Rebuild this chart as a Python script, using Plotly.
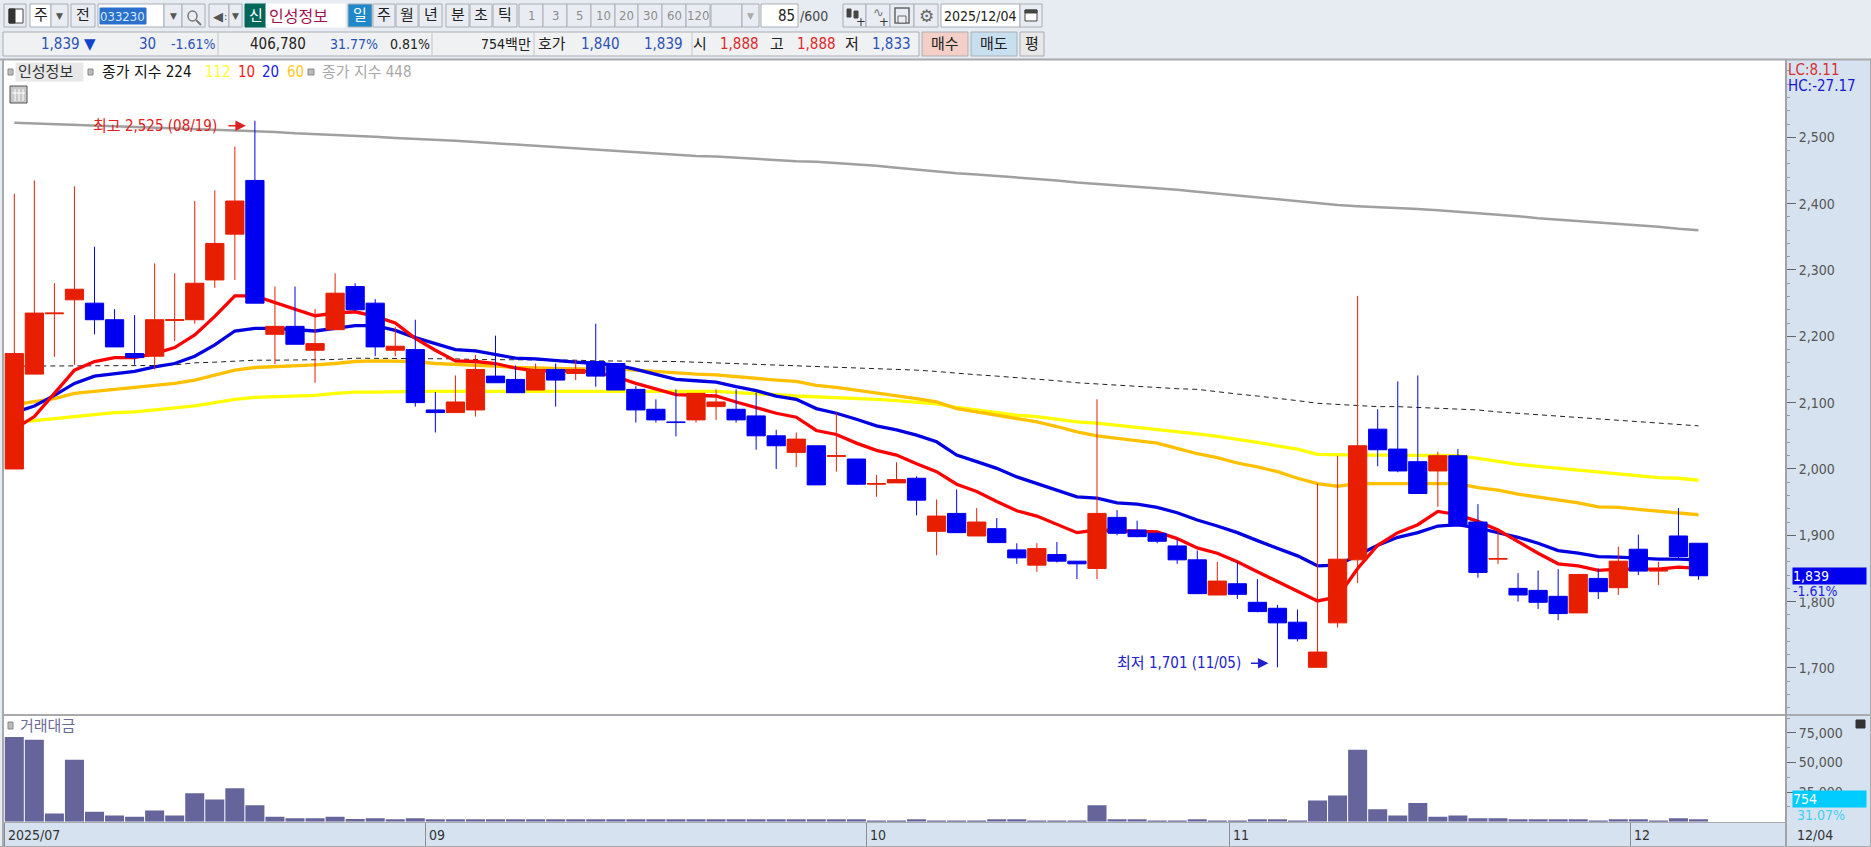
import plotly.graph_objects as go

# ---------- data ----------
OPEN = [2000,2143,2234,2255,2250,2225,2174,2170,2224,2225,2285,2354,2435,2203,2215,2179,2210,2275,2250,2179,
        2180,2089,2085,2089,2140,2135,2119,2150,2144,2162,2159,2120,2090,2071,2074,2094,2090,2080,2050,2025,
        2035,2019,2015,1977,1979,1986,1906,1933,1899,1910,1878,1855,1871,1861,1850,1927,1908,1903,1884,1863,
        1810,1827,1799,1790,1769,1701,1768,1863,2060,2030,2011,1997,2020,1920,1864,1820,1817,1808,1783,1835,
        1821,1879,1846,1899,1888]
HIGH = [2415,2435,2280,2426,2335,2241,2232,2310,2295,2404,2420,2486,2525,2275,2275,2241,2295,2280,2256,2214,
        2225,2116,2141,2172,2201,2156,2159,2159,2164,2219,2160,2125,2105,2120,2114,2120,2120,2115,2059,2055,
        2035,2085,2015,1991,2010,1989,1954,1969,1941,1926,1888,1888,1890,1861,2105,1938,1922,1905,1894,1877,
        1860,1859,1834,1795,1788,1978,2020,2261,2090,2132,2141,2026,2030,1947,1910,1843,1847,1849,1841,1850,
        1883,1901,1860,1941,1888]
LOW = [2000,2143,2169,2157,2203,2184,2157,2150,2193,2219,2273,2285,2250,2158,2188,2130,2210,2238,2170,2170,
       2094,2055,2085,2079,2130,2115,2119,2094,2134,2124,2119,2070,2070,2049,2070,2074,2070,2029,2000,2003,
       1976,1996,1976,1958,1979,1930,1870,1904,1899,1889,1857,1845,1859,1834,1834,1900,1897,1888,1857,1812,
       1810,1804,1784,1701,1740,1701,1761,1828,2004,1995,1963,1943,1914,1836,1857,1800,1789,1772,1783,1804,
       1810,1840,1825,1865,1833]
CLOSE = [2174,2235,2235,2271,2225,2184,2168,2225,2225,2280,2340,2404,2250,2215,2188,2189,2265,2240,2184,2185,
         2100,2085,2101,2150,2130,2115,2150,2134,2150,2140,2119,2089,2074,2070,2114,2101,2074,2050,2035,2045,
         1976,2020,1977,1978,1984,1953,1929,1904,1920,1889,1866,1880,1861,1857,1933,1903,1898,1891,1863,1812,
         1831,1811,1785,1768,1744,1724,1864,2035,2029,1997,1963,2020,1914,1844,1865,1810,1799,1782,1841,1815,
         1861,1846,1847,1868,1839]
MA10 = [2060,2079,2114,2149,2162,2168,2168,2174,2183,2202,2230,2261,2261,2251,2241,2231,2235,2237,2230,2220,
        2197,2179,2163,2162,2159,2152,2148,2148,2148,2146,2139,2129,2121,2112,2111,2110,2101,2093,2084,2078,
        2058,2052,2039,2028,2021,2008,1996,1977,1966,1951,1937,1929,1917,1904,1908,1907,1907,1905,1895,1881,
        1873,1860,1845,1830,1815,1801,1807,1850,1885,1904,1916,1936,1931,1921,1908,1890,1873,1857,1854,1847,
        1849,1849,1849,1852,1850]
MA20 = [2085,2095,2111,2129,2140,2143,2147,2154,2159,2170,2187,2208,2212,2212,2210,2208,2212,2216,2216,2209,
        2198,2189,2180,2178,2173,2167,2166,2163,2161,2159,2157,2150,2143,2135,2133,2131,2124,2118,2110,2105,
        2091,2084,2075,2065,2059,2051,2041,2021,2011,2001,1988,1978,1969,1958,1956,1949,1947,1942,1934,1923,
        1914,1904,1892,1881,1869,1854,1855,1870,1885,1897,1904,1914,1916,1911,1904,1897,1888,1877,1873,1868,
        1867,1865,1864,1864,1863]
MA60 = [2097,2101,2106,2114,2117,2120,2123,2125,2129,2134,2142,2149,2153,2154,2155,2157,2159,2162,2163,2163,
        2162,2159,2158,2157,2155,2153,2152,2151,2151,2151,2151,2149,2147,2144,2143,2142,2139,2136,2134,2132,
        2126,2123,2119,2115,2110,2106,2101,2091,2086,2081,2076,2071,2064,2056,2050,2046,2043,2039,2031,2023,
        2017,2009,2003,1996,1986,1978,1974,1978,1978,1978,1978,1978,1978,1972,1968,1962,1958,1953,1949,1943,
        1942,1939,1936,1933,1931]
MA112 = [2070,2073,2076,2080,2082,2085,2086,2089,2091,2095,2100,2105,2108,2109,2110,2111,2114,2116,2116,2117,
         2117,2117,2117,2117,2117,2117,2117,2118,2118,2118,2118,2118,2118,2117,2117,2117,2115,2114,2112,2110,
         2109,2108,2106,2105,2103,2101,2098,2093,2089,2085,2081,2079,2075,2071,2069,2066,2062,2060,2056,2053,
         2049,2045,2040,2035,2030,2022,2021,2021,2021,2021,2021,2020,2020,2016,2011,2007,2004,2001,1999,1996,
         1993,1990,1987,1986,1983]
MA224 = [2155,2155,2155,2155,2155,2156,2156,2156,2157,2160,2161,2163,2164,2164,2164,2164,2165,2167,2167,2167,
         2167,2166,2166,2165,2165,2165,2164,2164,2164,2163,2163,2163,2162,2162,2161,2160,2159,2158,2157,2156,
         2155,2154,2153,2152,2150,2149,2147,2144,2142,2140,2138,2135,2133,2130,2128,2126,2124,2122,2121,2120,
         2116,2113,2110,2107,2103,2099,2097,2095,2094,2094,2093,2092,2091,2089,2086,2084,2082,2079,2077,2075,
         2073,2071,2069,2067,2065]
MA448 = [2522,2521,2520,2519,2518,2517,2516,2515,2514,2513,2512,2511,2509,2508,2506,2505,2504,2502,2501,2499,
         2498,2497,2495,2493,2491,2489,2487,2485,2483,2482,2480,2478,2476,2474,2472,2471,2469,2467,2466,2464,
         2463,2461,2460,2457,2454,2451,2448,2446,2444,2442,2440,2437,2435,2432,2430,2428,2425,2423,2421,2418,
         2415,2413,2410,2407,2404,2401,2398,2396,2395,2393,2392,2390,2388,2385,2383,2381,2378,2376,2374,2372,
         2370,2367,2365,2362,2360]
VALUE = [71500,69200,7000,52400,8400,5300,4200,9500,5300,24100,18800,28300,13800,4200,3000,3000,4200,2300,3000,2000,
         3000,2000,2000,2000,2000,2000,2000,2000,2000,2000,2000,2000,2000,2000,2000,2000,2000,2000,2000,2000,
         2000,2000,2000,1100,1100,2000,1100,1100,1100,2000,2000,1100,1100,1100,13800,2000,2000,1100,1100,2000,
         1100,1100,2000,2000,1100,17900,22100,60800,10600,5300,15700,4200,5300,3000,3000,2000,2000,2000,2000,1100,
         2000,2000,1100,3000,2000]
for a in (OPEN, HIGH, LOW, CLOSE, MA10, MA20, MA60, MA112, MA224, MA448, VALUE):
    assert len(a) == 85, len(a)

INDEX = list(range(85))
PRICE_TICKS = [1700,1800,1900,2000,2100,2200,2300,2400,2500]
VALUE_TICKS = [25000,50000,75000]
VALUE_MINOR = [12500,37500,62500,87500]
MONTH_POS = [-0.5,20.5,42.5,60.6,80.6]
MONTH_LABELS = ["2025/07","09","10","11","12"]
HIGH_I, LOW_I = 12, 63

# ---------- look ----------
W, H = 1871, 847
NARROW = "Liberation Sans Narrow, DejaVu Sans Condensed, Noto Sans CJK KR, sans-serif"
BG, PANEL = "#e7ecf3", "#d6e2f0"
RED, BLUE = "#e81e00", "#0000f0"
TXTBLUE, TXTRED = "#2a52b8", "#e02828"
def fx(px): return px / W
def fy(px): return 1 - px / H
xr = [(3 - 14.3) / 20.05, (1786 - 14.3) / 20.05]
yr = [1701 + (667.3 - 714.5) * 1.5076, 1701 + (667.3 - 60) * 1.5076]
vr = [0, (821.7 - 715) / 1.19 * 1000]

shapes, annos = [], []
def rect(x0, y0, x1, y1, fill, line=None, lw=1):
    shapes.append(dict(type="rect", xref="paper", yref="paper", x0=fx(x0), x1=fx(x1), y0=fy(y0), y1=fy(y1),
                       fillcolor=fill, line=dict(color=line or fill, width=lw), layer="below"))
def hline(x0, y0, x1, y1, col, lw=1):
    shapes.append(dict(type="line", xref="paper", yref="paper", x0=fx(x0), x1=fx(x1), y0=fy(y0), y1=fy(y1),
                       line=dict(color=col, width=lw), layer="below"))
def text(x, y, s, col="#222222", size=15, anchor="left", fam=NARROW):
    annos.append(dict(xref="paper", yref="paper", x=fx(x), y=fy(y), text=s, showarrow=False, xanchor=anchor,
                      yanchor="middle", font=dict(color=col, size=size, family=fam),
                      borderpad=0, borderwidth=0))
def btn(x0, x1, label="", fill="#e9edf3", col="#222222", y0=4, y1=27, size=15):
    rect(x0, y0, x1, y1, fill, "#a9aeb4")
    if label:
        text((x0 + x1) / 2, (y0 + y1) / 2, label, col, size, "center")
def tri(x, y, col="#555555", size=9):
    text(x, y, "▼", col, size, "center", "DejaVu Sans")

# chrome: panels
rect(0, 0, W, H, BG)
rect(3, 60, 1786, 846, "#ffffff")
rect(1786, 60, 1871, 847, PANEL)
rect(3, 823, 1786, 846, PANEL)
hline(0, 59.5, 1871, 59.5, "#a8aaae", 2)
hline(3, 60, 3, 846, "#a8aaae", 2)
hline(3, 715, 1871, 715, "#a8aaae", 2)
hline(0, 846.5, 1871, 846.5, "#a8aaae", 1)
hline(1786, 60, 1786, 847, "#a0a4aa", 2)
hline(1870.5, 60, 1870.5, 847, "#a8aaae", 1)

# toolbar row 1
btn(4, 26); rect(9, 9, 23, 23, "#ffffff", "#444444"); rect(9, 9, 15, 23, "#333333", "#333333")
btn(30, 51, "주", "#ffffff"); btn(51, 68); tri(59.5, 16)
btn(71, 95, "전")
rect(98, 4, 164, 27, "#ffffff", "#a9aeb4"); rect(100, 8, 146, 24, "#2a70cc"); text(123, 16, "033230", "#d8e8ff", 13, "center")
btn(164, 182); tri(173, 16); btn(182, 205)
shapes.append(dict(type="circle", xref="paper", yref="paper", x0=fx(188), x1=fx(197), y0=fy(21), y1=fy(11),
                   line=dict(color="#777777", width=1.5), fillcolor="rgba(0,0,0,0)", layer="below"))
hline(196, 20, 201, 25, "#777777", 2)
btn(209, 229); text(218, 16, "◀", "#555555", 13, "center", "DejaVu Sans"); text(225, 16, ":", "#555555", 11, "center")
btn(229, 242); tri(235.5, 16)
rect(245, 4, 266, 27, "#00665a"); text(255.5, 16, "신", "#ffffff", 15, "center")
rect(266, 4, 345, 27, "#ffffff"); text(269, 16, "인성정보", "#a0104e", 16)
btn(348, 372, "일", "#1e88c8", "#ffffff")
for a, b, s in [(373,395,"주"),(396,418,"월"),(419,442,"년"),(446,469,"분"),(470,492,"초"),(493,517,"틱")]:
    btn(a, b, s)
for a, b, s in [(519,543,"1"),(543,567,"3"),(567,591,"5"),(591,615,"10"),(615,638,"20"),(638,662,"30"),(662,686,"60"),(686,710,"120")]:
    btn(a, b, s, "#e9edf3", "#8c8c8c", size=13)
btn(711, 742); btn(742, 759); tri(750.5, 16, "#aaaaaa")
rect(761, 4, 798, 27, "#ffffff", "#a9aeb4"); text(795, 16, "85", "#222222", 15, "right"); text(800, 16, "/600", "#444444", 14)
btn(843, 866); btn(866, 890); btn(890, 914); btn(914, 938)
rect(847, 9, 851, 17, "#444444"); rect(854, 11, 858, 18, "#444444"); text(861, 21, "+", "#333333", 13, "center")
text(878, 13, "∿", "#777777", 13, "center", "DejaVu Sans"); text(884, 21, "+", "#333333", 13, "center")
rect(895, 8, 909, 23, "#e9edf3", "#666666", 1.5); rect(898, 16, 906, 23, "#e9edf3", "#666666")
text(926, 16, "⚙", "#666666", 17, "center", "DejaVu Sans")
rect(941, 4, 1020, 27, "#ffffff", "#a9aeb4"); text(980.5, 16, "2025/12/04", "#222222", 14, "center")
btn(1020, 1042); rect(1025, 10, 1037, 21, "#ffffff", "#444444"); rect(1025, 10, 1037, 13, "#444444")

# toolbar row 2
rect(3, 32, 919, 56, "#f0f1f3", "#a9aeb4")
for v in (218, 432, 534, 692):
    hline(v, 32, v, 56, "#c4c6ca")
Y2 = 44.5
text(41, Y2, "1,839", TXTBLUE, 15); text(90, Y2, "▼", "#1144cc", 15, "center", "DejaVu Sans")
text(156, Y2, "30", TXTBLUE, 15, "right"); text(216, Y2, "-1.61%", TXTBLUE, 14, "right")
text(306, Y2, "406,780", "#222222", 15, "right")
text(378, Y2, "31.77%", TXTBLUE, 14, "right"); text(430, Y2, "0.81%", "#222222", 14, "right")
text(531, Y2, "754백만", "#222222", 14, "right"); text(538, Y2, "호가", "#222222", 15)
text(581, Y2, "1,840", TXTBLUE, 15); text(644, Y2, "1,839", TXTBLUE, 15)
text(693, Y2, "시", "#222222", 15); text(720, Y2, "1,888", TXTRED, 15)
text(770, Y2, "고", "#222222", 15); text(797, Y2, "1,888", TXTRED, 15)
text(845, Y2, "저", "#222222", 15); text(872, Y2, "1,833", TXTBLUE, 15)
btn(922, 968, "매수", "#f4cfc8", y0=32, y1=56)
btn(971, 1017, "매도", "#c8dff0", y0=32, y1=56)
btn(1020, 1044, "평", "#e8e8e8", y0=32, y1=56)

# panel legend
Y3 = 72
rect(8, 69, 13, 75, "#bbbbbb", "#888888"); rect(16, 63, 83, 81, "#e8e8e8"); text(18, Y3, "인성정보", "#333333", 15)
rect(88, 69, 93, 75, "#bbbbbb", "#888888"); text(102, Y3, "종가 지수 224", "#111111", 15)
text(205, Y3, "112", "#ffff30", 15); text(238, Y3, "10", "#f02020", 15); text(262, Y3, "20", "#2020e0", 15); text(287, Y3, "60", "#ffc820", 15)
rect(308, 69, 314, 75, "#bbbbbb", "#888888"); text(322, Y3, "종가 지수 448", "#a8a8a8", 15)
rect(10, 86, 27, 103, "#c8c8c8", "#555555")
hline(15, 89, 15, 101, "#ffffff"); hline(19, 89, 19, 101, "#ffffff"); hline(23, 89, 23, 101, "#ffffff"); hline(12, 93, 25, 93, "#ffffff")
rect(8, 722, 13, 729, "#bbbbbb", "#888888"); text(20, 726, "거래대금", "#6a6a9c", 15)
rect(1856, 720, 1865, 728, "#333333")
text(1788, 70, "LC:8.11", "#d83030", 15); text(1788, 86, "HC:-27.17", "#1818d0", 15)
text(1797, 834.5, "12/04", "#333333", 14)

# data-anchored notes
for i, s in zip(MONTH_POS, MONTH_LABELS):
    annos.append(dict(xref="x2", yref="paper", x=i, y=fy(834.5), xshift=2, text=s, showarrow=False, xanchor="left",
                      yanchor="middle", font=dict(color="#333333", size=14, family=NARROW)))
def note(i, price, s, col, textshift, yshift, tip):
    annos.append(dict(xref="x", yref="y", x=i, y=price, xshift=textshift, yshift=yshift, text=s, showarrow=False,
                      xanchor="right", yanchor="middle", font=dict(color=col, size=15, family=NARROW)))
    annos.append(dict(xref="x", yref="y", x=i, y=price, xshift=tip, yshift=yshift, text="", showarrow=True,
                      axref="pixel", ayref="pixel", ax=-19, ay=0, arrowhead=2, arrowsize=1.4, arrowwidth=1.5, arrowcolor=col))
note(HIGH_I, HIGH[HIGH_I], "최고 2,525 (08/19)", "#e02020", -36, -5, -9)
note(LOW_I, LOW[LOW_I], "최저 1,701 (11/05)", "#2222cc", -34, 4, -9)
annos.append(dict(xref="paper", yref="y", x=fx(1792), y=CLOSE[-1], yshift=-15, text="-1.61%", showarrow=False, xanchor="left",
                  yanchor="middle", width=58, height=13, align="left", bgcolor=PANEL, borderpad=0,
                  font=dict(color="#2222e0", size=14, family=NARROW)))
annos.append(dict(xref="paper", yref="y", x=fx(1792), y=CLOSE[-1], text=f"{CLOSE[-1]:,}", showarrow=False, xanchor="left",
                  yanchor="middle", width=73, height=16, align="left", bgcolor="#0000ee", borderpad=0,
                  font=dict(color="#ffffff", size=14, family=NARROW)))
annos.append(dict(xref="paper", yref="paper", x=fx(1792), y=fy(799), text="754", showarrow=False, xanchor="left",
                  yanchor="middle", width=73, height=16, align="left", bgcolor="#00ccff", borderpad=0,
                  font=dict(color="#ffffff", size=14, family=NARROW)))
text(1797, 815, "31.07%", "#40d0f0", 14)

fig = go.Figure()
for ys, col, w, dash in [(MA448, "#a0a0a0", 2.5, "solid"), (MA224, "#222222", 1, "5px,4px"), (MA112, "#ffff00", 3.3, "solid"),
                         (MA60, "#ffc000", 3.3, "solid"), (MA20, "#0000e0", 3.3, "solid"), (MA10, "#ff0000", 3.3, "solid")]:
    fig.add_trace(go.Scatter(x=INDEX, y=ys, mode="lines", line=dict(color=col, width=w, dash=dash),
                             xaxis="x", yaxis="y", hoverinfo="skip", showlegend=False))
fig.add_trace(go.Candlestick(x=INDEX, open=OPEN, high=HIGH, low=LOW, close=CLOSE, xaxis="x", yaxis="y3", showlegend=False,
                             increasing=dict(line=dict(color=RED, width=1), fillcolor=RED),
                             decreasing=dict(line=dict(color=BLUE, width=1), fillcolor=BLUE)))
fig.add_trace(go.Bar(x=INDEX, y=VALUE, width=0.95, marker=dict(color="#65659b", line=dict(width=0)),
                     xaxis="x2", yaxis="y2", showlegend=False))

axis_font = dict(family=NARROW, size=14, color="#555555")
fig.update_layout(
    width=W, height=H, autosize=False, margin=dict(l=0, r=0, t=0, b=0, pad=0),
    paper_bgcolor=BG, plot_bgcolor="#ffffff", showlegend=False, boxgap=0.09, boxgroupgap=0, bargap=0.05,
    xaxis=dict(domain=[fx(3), fx(1786)], range=xr, anchor="y", showgrid=False, zeroline=False, showticklabels=False,
               ticks="", rangeslider=dict(visible=False), showline=False),
    xaxis2=dict(domain=[fx(3), fx(1786)], range=xr, anchor="y2", showgrid=False, zeroline=False, showticklabels=False,
                tickmode="array", tickvals=MONTH_POS, ticks="outside", ticklen=23, tickcolor="#8a8f96", tickwidth=1,
                showline=True, linecolor="#a8aaae", linewidth=1),
    yaxis=dict(domain=[fy(714.5), fy(60)], range=yr, side="right", anchor="x", showgrid=False, zeroline=False,
               tickmode="array", tickvals=PRICE_TICKS, tickformat=",d", ticks="outside", ticklen=9, tickcolor="#666666",
               tickfont=axis_font, minor=dict(dtick=20, ticks="outside", ticklen=3, tickcolor="#999999")),
    yaxis3=dict(range=yr, overlaying="y", side="right", anchor="x", visible=False),
    yaxis2=dict(domain=[fy(821.7), fy(715.5)], range=vr, side="right", anchor="x2", showgrid=False, zeroline=False,
                tickmode="array", tickvals=VALUE_TICKS, tickformat=",d", ticks="outside", ticklen=9, tickcolor="#666666",
                tickfont=axis_font, minor=dict(tickmode="array", tickvals=VALUE_MINOR, ticks="outside", ticklen=3, tickcolor="#999999")),
    shapes=shapes, annotations=annos,
)
fig.write_html("out.html", config=dict(displayModeBar=False),
               post_script="document.body.style.margin='0';document.body.style.overflow='hidden';")
